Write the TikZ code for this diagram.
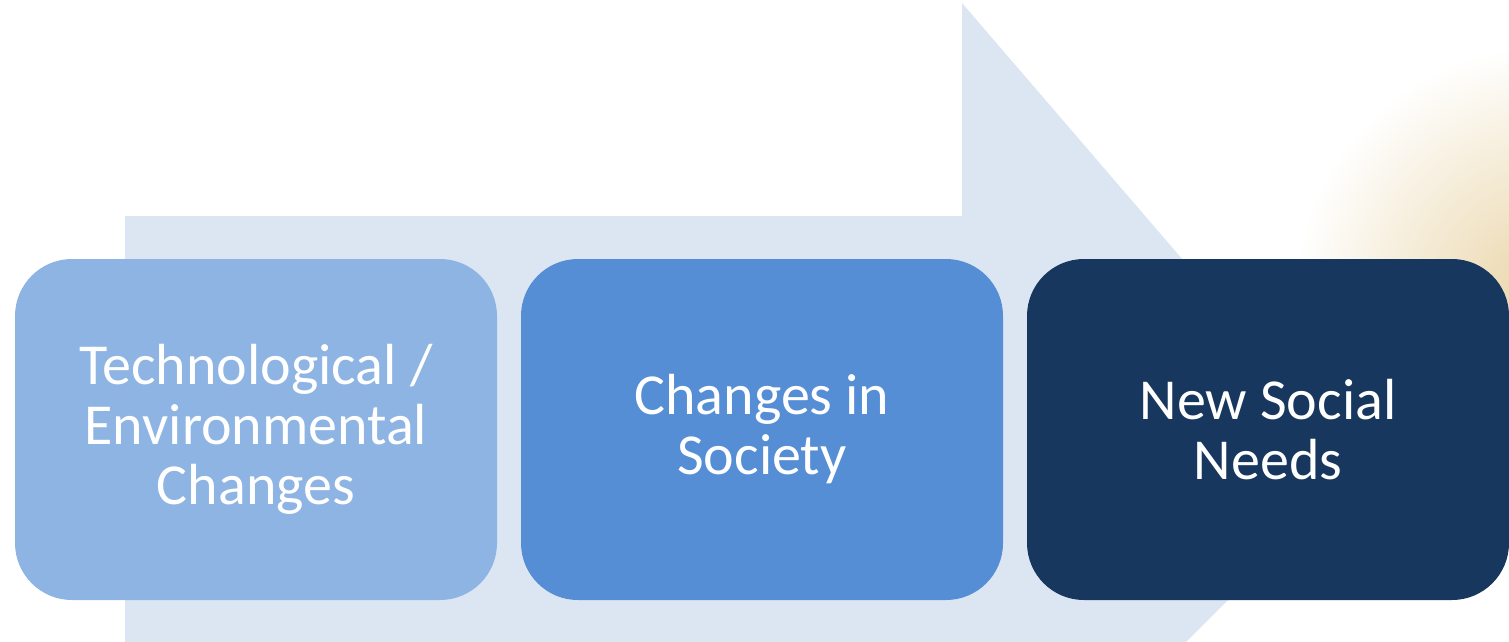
\documentclass[tikz,border=0pt]{standalone}
\usepackage{fontspec}
\setmainfont{Carlito}
\definecolor{arrowfill}{HTML}{DCE6F2}
\definecolor{boxA}{HTML}{8EB4E3}
\definecolor{boxB}{HTML}{558ED5}
\definecolor{boxC}{HTML}{17375E}
\definecolor{glowcol}{HTML}{E9D4A6}
\begin{document}
\begin{tikzpicture}[x=1pt,y=-1pt,
  stepbox/.style={rounded corners=57pt, minimum width=482pt, minimum height=341pt,
    inner sep=0pt, text=white, align=center,
    font=\fontsize{58}{60}\selectfont}]
\useasboundingbox (0,0) rectangle (1509,641);
\clip (0,0) rectangle (1509,641);
% soft glow on the right
\shade[inner color=glowcol, outer color=white] (1548,300) circle (255);
% big background arrow
\fill[arrowfill] (125,216) -- (962,216) -- (962,3) -- (1361,467) -- (1128,700) -- (125,700) -- cycle;
% boxes
\node[stepbox, fill=boxA] (tech) at (256,429.5) {Technological /\\Environmental\\Changes};
\node[stepbox, fill=boxB] (soc) at (762,429.5) {Changes in\\Society};
\node[stepbox, fill=boxC] (needs) at (1268,429.5) {New Social\\Needs};
\end{tikzpicture}
\end{document}
